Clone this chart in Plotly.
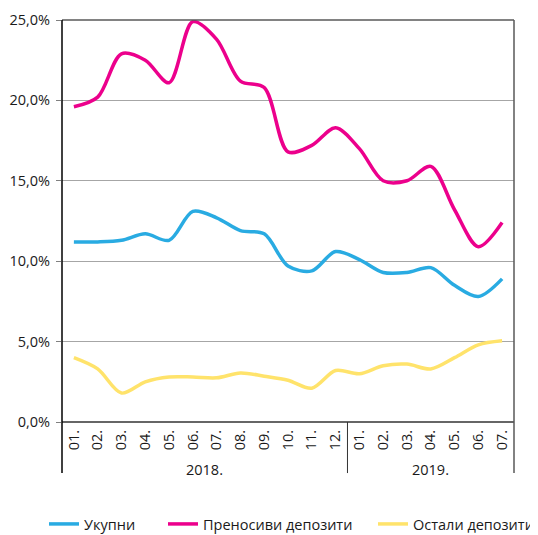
import plotly.graph_objects as go

months = ["01.", "02.", "03.", "04.", "05.", "06.", "07.", "08.", "09.", "10.", "11.", "12.",
          "01.", "02.", "03.", "04.", "05.", "06.", "07."]
years = ["2018.", "2019."]
ukupni = [11.2, 11.2, 11.3, 11.7, 11.3, 13.1, 12.7, 11.9, 11.7, 9.7, 9.4, 10.6,
          10.1, 9.3, 9.3, 9.6, 8.5, 7.8, 8.9]
prenosivi = [19.6, 20.2, 22.9, 22.5, 21.1, 24.9, 23.8, 21.2, 20.8, 16.8, 17.2, 18.3,
             17.0, 15.0, 15.0, 15.9, 13.2, 10.9, 12.4]
ostali = [4.0, 3.3, 1.8, 2.5, 2.8, 2.8, 2.75, 3.05, 2.85, 2.6, 2.1, 3.2,
          3.0, 3.5, 3.6, 3.3, 4.0, 4.8, 5.05]
series_names = ["Укупни", "Преносиви депозити", "Остали депозити"]
y_ticks = [0, 5, 10, 15, 20, 25]
y_ticktext = ["0,0%", "5,0%", "10,0%", "15,0%", "20,0%", "25,0%"]

colors = ["#29ABE2", "#EC008C", "#FFE36B"]
legend_ids = ["legend", "legend2", "legend3"]
W, H = 530, 527  # page body has an 8px margin
legend_x = [36 / W, 155 / W, 365 / W]
x = list(range(len(months)))

font = dict(family="Open Sans, Noto Sans, sans-serif", size=14.5, color="#1a1a1a")

fig = go.Figure()
for name, vals, c, lg in zip(series_names, [ukupni, prenosivi, ostali], colors, legend_ids):
    fig.add_trace(go.Scatter(x=x, y=vals, name=name, mode="lines", legend=lg,
                             line=dict(color=c, width=3.5, shape="spline", smoothing=0.9)))

leg_common = dict(orientation="h", xanchor="left", xref="container", yref="container",
                  y=1 - 516 / H, yanchor="middle",
                  font=dict(size=14.5), bgcolor="rgba(0,0,0,0)")
fig.update_layout(
    width=W, height=H,
    margin=dict(l=54, r=24, t=12, b=113),
    paper_bgcolor="white", plot_bgcolor="white",
    font=font,
    showlegend=True,
    legend=dict(x=legend_x[0], **leg_common),
    legend2=dict(x=legend_x[1], **leg_common),
    legend3=dict(x=legend_x[2], **leg_common),
    xaxis=dict(range=[-0.5, len(months) - 0.5], tickvals=x, ticktext=months, tickangle=-90,
               showgrid=False, zeroline=False, showline=False, ticks="", ticklabelstandoff=4,
               automargin=False),
    yaxis=dict(range=[0, 25], tickvals=y_ticks, ticktext=y_ticktext, showgrid=True,
               gridcolor="#A6A6A6", gridwidth=1, zeroline=False, showline=False,
               ticks="outside", ticklen=5, tickcolor="#808080", tickwidth=1,
               ticklabelstandoff=3, automargin=False),
)

# frame and dividers
fig.add_shape(type="line", xref="paper", yref="paper", x0=0, x1=1, y0=1, y1=1,
              line=dict(color="#595959", width=1.5))
fig.add_shape(type="line", xref="paper", yref="paper", x0=0, x1=1, y0=0, y1=0,
              line=dict(color="#333333", width=1.5))
fig.add_shape(type="line", xref="paper", yref="paper", x0=0, x1=0, y0=1, y1=-0.127,
              line=dict(color="#000000", width=1.5))
fig.add_shape(type="line", xref="paper", yref="paper", x0=1, x1=1, y0=1, y1=-0.127,
              line=dict(color="#595959", width=1.5))
fig.add_shape(type="line", xref="x", yref="paper", x0=11.5, x1=11.5, y0=0, y1=-0.127,
              line=dict(color="#333333", width=1))

fig.add_annotation(x=5.5, y=-0.119, xref="x", yref="paper", text=years[0], showarrow=False,
                   yanchor="middle", font=font)
fig.add_annotation(x=15, y=-0.119, xref="x", yref="paper", text=years[1], showarrow=False,
                   yanchor="middle", font=font)

fig.write_html("out.html")
